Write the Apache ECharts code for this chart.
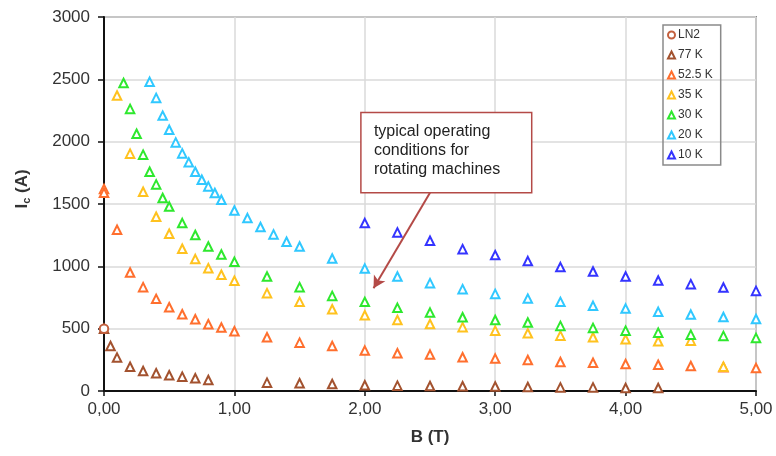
<!DOCTYPE html>
<html>
<head>
<meta charset="utf-8">
<script src="https://cdn.jsdelivr.net/npm/echarts@6/dist/echarts.min.js"></script>
<style>
  html, body { margin: 0; padding: 0; background: #fff; }
  #chart { width: 776px; height: 456px; }
</style>
</head>
<body>
<div id="chart"></div>
<script>
// Critical current Ic (A) versus field B (T) at several temperatures
const seriesNames = ['LN2', '77 K', '52.5 K', '35 K', '30 K', '20 K', '10 K'];

const bLN2 = [0];
const icLN2 = [500];

const b77 = [0, 0.05, 0.1, 0.2, 0.3, 0.4, 0.5, 0.6, 0.7, 0.8, 1.25, 1.5, 1.75, 2.0, 2.25, 2.5, 2.75, 3.0, 3.25, 3.5, 3.75, 4.0, 4.25];
const ic77 = [500, 361, 268, 195, 161, 142, 126, 115, 102, 88, 67, 62, 56, 46, 43, 40, 38, 36, 32, 29, 29, 24, 24];

const b52 = [0, 0, 0.1, 0.2, 0.3, 0.4, 0.5, 0.6, 0.7, 0.8, 0.9, 1.0, 1.25, 1.5, 1.75, 2.0, 2.25, 2.5, 2.75, 3.0, 3.25, 3.5, 3.75, 4.0, 4.25, 4.5, 4.75, 5.0];
const ic52 = [1620, 1590, 1293, 950, 833, 739, 672, 616, 576, 536, 509, 479, 431, 388, 361, 324, 303, 292, 271, 260, 249, 233, 227, 217, 211, 201, 190, 185];

const b35 = [0.1, 0.2, 0.3, 0.4, 0.5, 0.6, 0.7, 0.8, 0.9, 1.0, 1.25, 1.5, 1.75, 2.0, 2.25, 2.5, 2.75, 3.0, 3.25, 3.5, 3.75, 4.0, 4.25, 4.5, 4.75];
const ic35 = [2370, 1904, 1598, 1398, 1261, 1141, 1058, 985, 932, 884, 785, 715, 656, 608, 570, 538, 512, 484, 463, 444, 431, 415, 399, 404, 195];

const b30 = [0.15, 0.2, 0.25, 0.3, 0.35, 0.4, 0.45, 0.5, 0.6, 0.7, 0.8, 0.9, 1.0, 1.25, 1.5, 1.75, 2.0, 2.25, 2.5, 2.75, 3.0, 3.25, 3.5, 3.75, 4.0, 4.25, 4.5, 4.75, 5.0];
const ic30 = [2471, 2263, 2064, 1896, 1759, 1657, 1548, 1480, 1347, 1251, 1159, 1095, 1036, 918, 833, 763, 715, 667, 629, 592, 570, 549, 522, 506, 484, 468, 452, 442, 426];

const b20 = [0.35, 0.4, 0.45, 0.5, 0.55, 0.6, 0.65, 0.7, 0.75, 0.8, 0.85, 0.9, 1.0, 1.1, 1.2, 1.3, 1.4, 1.5, 1.75, 2.0, 2.25, 2.5, 2.75, 3.0, 3.25, 3.5, 3.75, 4.0, 4.25, 4.5, 4.75, 5.0];
const ic20 = [2480, 2351, 2209, 2096, 1994, 1906, 1834, 1759, 1695, 1641, 1588, 1534, 1448, 1387, 1315, 1256, 1197, 1159, 1063, 982, 918, 865, 817, 779, 741, 715, 683, 661, 635, 613, 594, 578];

const b10 = [2.0, 2.25, 2.5, 2.75, 3.0, 3.25, 3.5, 3.75, 4.0, 4.25, 4.5, 4.75, 5.0];
const ic10 = [1347, 1272, 1205, 1138, 1090, 1042, 994, 958, 918, 886, 857, 830, 803];

const xTicks = [0, 1, 2, 3, 4, 5];
const yTicks = [0, 500, 1000, 1500, 2000, 2500, 3000];

const noteLines = ['typical operating', 'conditions for', 'rotating machines'];

const colors = ['#c4613f', '#a3522f', '#ff6f2e', '#ffc21f', '#2ee82e', '#30c8ff', '#3434ff'];
const symbols = ['emptyCircle', 'emptyTriangle', 'emptyTriangle', 'emptyTriangle', 'emptyTriangle', 'emptyTriangle', 'emptyTriangle'];
const bArrays = [bLN2, b77, b52, b35, b30, b20, b10];
const icArrays = [icLN2, ic77, ic52, ic35, ic30, ic20, ic10];

const FONT = '"Liberation Sans", Arial, sans-serif';

// Annotation anchors in data units (B, Ic)
const noteBox = { b0: 1.97, b1: 3.28, i0: 2233, i1: 1590 };
const arrowFrom = [2.5, 1590];
const arrowTo = [2.067, 825];

const zip = (xs, ys) => xs.map((x, k) => [x, ys[k]]);

const series = seriesNames.map((name, k) => ({
  name: name,
  type: 'scatter',
  data: zip(bArrays[k], icArrays[k]),
  symbol: symbols[k],
  symbolSize: 8.5,
  z: k === 0 ? 3 : 2,
  itemStyle: { color: colors[k], borderColor: colors[k], borderWidth: 1.8, opacity: 1 },
  emphasis: { disabled: true }
}));

series[series.length - 1].markLine = {
  silent: true,
  symbol: ['none', 'arrow'],
  symbolSize: [10, 12],
  label: { show: false },
  lineStyle: { color: '#b44a47', width: 2, type: 'solid' },
  data: [[{ coord: arrowFrom }, { coord: arrowTo }]]
};

const chart = echarts.init(document.getElementById('chart'), null, { renderer: 'canvas' });

const option = {
  animation: false,
  backgroundColor: '#ffffff',
  textStyle: { fontFamily: FONT },
  grid: {
    left: 104, right: 20, top: 17, bottom: 65,
    show: true, borderColor: '#8a8a8a', borderWidth: 2, backgroundColor: 'transparent'
  },
  legend: {
    orient: 'vertical',
    left: 663, top: 25,
    itemWidth: 7, itemHeight: 7, itemGap: 8,
    padding: [4, 8, 4, 4],
    borderColor: '#8a8a8a', borderWidth: 1.5,
    textStyle: { fontSize: 12, color: '#333', fontFamily: FONT, padding: [0, 0, 0, -2] },
    data: seriesNames
  },
  xAxis: {
    type: 'value',
    min: xTicks[0], max: xTicks[xTicks.length - 1], interval: 1,
    name: 'B (T)', nameLocation: 'middle', nameGap: 38,
    nameTextStyle: { fontSize: 17, fontWeight: 'bold', color: '#333', fontFamily: FONT },
    axisLine: { lineStyle: { color: '#111', width: 2 } },
    axisTick: { show: true, length: 5, lineStyle: { color: '#111', width: 1.5 } },
    axisLabel: {
      fontSize: 17, color: '#333', margin: 10, fontFamily: FONT,
      formatter: v => v.toFixed(2).replace('.', ',')
    },
    splitLine: { show: true, lineStyle: { color: '#dadada', width: 1.5 } }
  },
  yAxis: {
    type: 'value',
    min: yTicks[0], max: yTicks[yTicks.length - 1], interval: 500,
    axisLine: { show: true, lineStyle: { color: '#111', width: 2 } },
    axisTick: { show: true, length: 6, lineStyle: { color: '#111', width: 1.5 } },
    axisLabel: { fontSize: 17, color: '#333', margin: 14, fontFamily: FONT, formatter: v => String(v) },
    splitLine: { show: true, lineStyle: { color: '#dadada', width: 1.5 } }
  },
  series: series
};

chart.setOption(option);

// Callout box and y-axis title, placed from data coordinates
const p0 = chart.convertToPixel({ gridIndex: 0 }, [noteBox.b0, noteBox.i0]);
const p1 = chart.convertToPixel({ gridIndex: 0 }, [noteBox.b1, noteBox.i1]);
const gridRect = chart.getModel().getComponent('grid', 0).coordinateSystem.getRect();

chart.setOption({
  graphic: [
    {
      type: 'rect',
      z: 100,
      shape: { x: p0[0], y: p0[1], width: p1[0] - p0[0], height: p1[1] - p0[1] },
      style: { fill: '#ffffff', stroke: '#b44a47', lineWidth: 1.5 }
    },
    {
      type: 'text',
      z: 101,
      x: p0[0] + 13, y: p0[1] + 9,
      style: {
        text: noteLines.join('\n'),
        font: '16px ' + FONT,
        fill: '#222',
        lineHeight: 19,
        verticalAlign: 'top'
      }
    },
    {
      type: 'text',
      z: 101,
      x: 22, y: gridRect.y + gridRect.height / 2 - 15,
      rotation: Math.PI / 2,
      style: {
        text: '{a|I}{s|c}{a| (A)}',
        align: 'center',
        verticalAlign: 'middle',
        rich: {
          a: { fontSize: 17, fontWeight: 'bold', fontFamily: FONT, fill: '#333', lineHeight: 20, verticalAlign: 'middle' },
          s: { fontSize: 11, fontWeight: 'bold', fontFamily: FONT, fill: '#333', lineHeight: 20, verticalAlign: 'bottom' }
        }
      }
    }
  ]
});
</script>
</body>
</html>
